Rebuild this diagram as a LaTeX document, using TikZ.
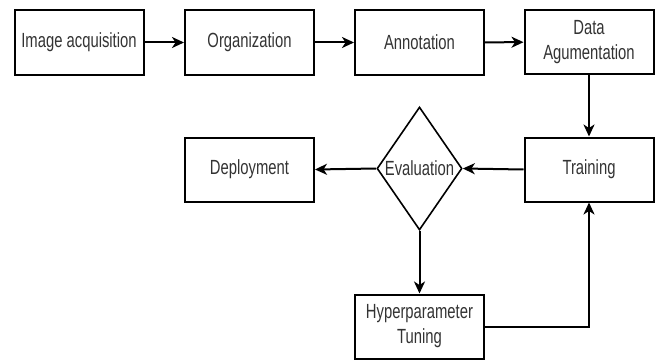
\documentclass[tikz,border=0pt]{standalone}
\usepackage{fontspec}
\setmainfont{Liberation Sans}[FakeStretch=0.723]
\usetikzlibrary{shapes.geometric,arrows.meta}
\begin{document}
\begin{tikzpicture}[x=1pt,y=-1pt,
  every node/.style={font=\fontsize{20.5}{25}\selectfont, text=black!80},
  box/.style={draw=black, line width=2pt, minimum width=129pt, minimum height=64pt, inner sep=0pt, align=center},
  dia/.style={draw=black, line width=1.6pt, diamond, minimum width=85pt, minimum height=123pt, inner sep=0pt},
  conn/.style={line width=2pt, -{Stealth[length=12pt,width=11pt,inset=3.5pt]}}
]
\useasboundingbox (0,0) rectangle (661,361);
\node[box] (img) at (79,42.5) {Image acquisition};
\node[box] (org) at (249.5,42.5) {Organization};
\node[box] (ann) at (419.5,42.5) {Annotation};
\node[box] (aug) at (589,42) {Data\\Agumentation};
\node[box] (train) at (589,169.5) {Training};
\node[dia] (eval) at (419.5,168.5) {};
\node (evaltext) at (eval.center) {Evaluation};
\node[box] (deploy) at (249.5,169.5) {Deployment};
\node[box] (hyp) at (419.5,326.5) {Hyperparameter\\Tuning};
\draw[conn] (img) -- (org);
\draw[conn] (org) -- (ann);
\draw[conn] (ann) -- (aug);
\draw[conn] (aug) -- (train);
\draw[conn] (train.west) -- (eval.east);
\draw[conn] (eval.west) -- (deploy.east);
\draw[conn] (eval.south) -- (hyp.north);
\draw[conn] (hyp.east) -| (train.south);
\end{tikzpicture}
\end{document}
